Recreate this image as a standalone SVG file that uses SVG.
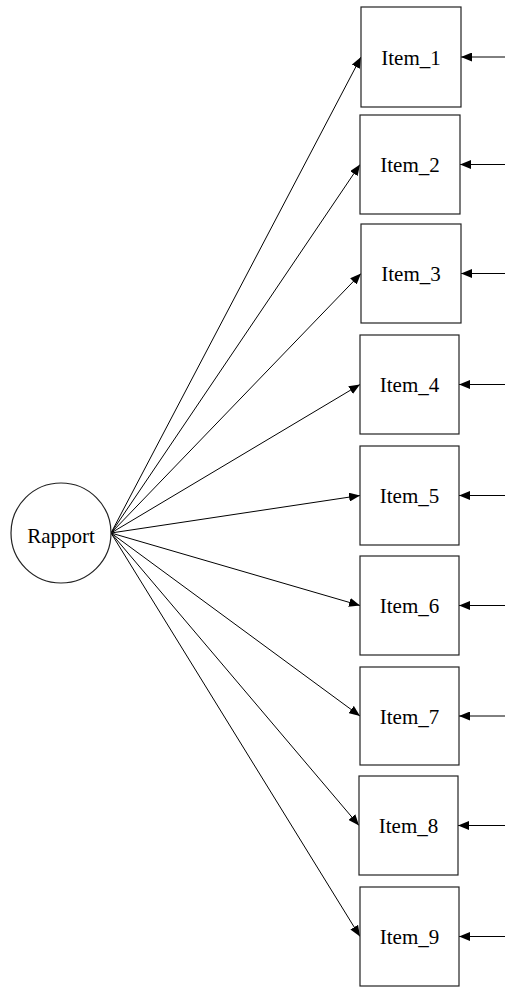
<svg xmlns="http://www.w3.org/2000/svg" width="505" height="987" viewBox="0 0 505 987">
<style>
.box{fill:#fff;stroke:#222;stroke-width:1.2}
text{font-family:'Liberation Serif','Times New Roman',serif;font-size:21px;fill:#000;text-anchor:middle}
.edge{stroke:#000;stroke-width:1;fill:none;marker-end:url(#ah)}
</style>
<defs>
<marker id="ah" viewBox="0 0 11 9" refX="11" refY="4.5" markerWidth="11" markerHeight="9" markerUnits="userSpaceOnUse" orient="auto">
<path d="M0,0 L11,4.5 L0,9 Z" fill="#000"/>
</marker>
</defs>
<rect width="505" height="987" fill="#fff"/>
<g id="connectors">
<line class="edge" x1="111" y1="533" x2="361" y2="57"/>
<line class="edge" x1="111" y1="533" x2="360" y2="164.5"/>
<line class="edge" x1="111" y1="533" x2="361" y2="273.5"/>
<line class="edge" x1="111" y1="533" x2="360" y2="384.5"/>
<line class="edge" x1="111" y1="533" x2="360" y2="495.5"/>
<line class="edge" x1="111" y1="533" x2="360" y2="605.5"/>
<line class="edge" x1="111" y1="533" x2="360" y2="716"/>
<line class="edge" x1="111" y1="533" x2="359" y2="825.5"/>
<line class="edge" x1="111" y1="533" x2="360" y2="936.5"/>
<line class="edge" x1="505" y1="57" x2="461" y2="57"/>
<line class="edge" x1="505" y1="164.5" x2="460" y2="164.5"/>
<line class="edge" x1="505" y1="273.5" x2="461" y2="273.5"/>
<line class="edge" x1="505" y1="384.5" x2="459" y2="384.5"/>
<line class="edge" x1="505" y1="495.5" x2="459" y2="495.5"/>
<line class="edge" x1="505" y1="605.5" x2="459" y2="605.5"/>
<line class="edge" x1="505" y1="716" x2="459" y2="716"/>
<line class="edge" x1="505" y1="825.5" x2="458" y2="825.5"/>
<line class="edge" x1="505" y1="936.5" x2="459" y2="936.5"/>
</g>
<g id="Rapport">
<circle cx="61" cy="533" r="50" fill="#fff" stroke="#222" stroke-width="1.2"/>
<text x="61" y="543">Rapport</text>
</g>
<g id="Item_1"><rect class="box" x="361" y="7" width="100" height="100"/><text x="411" y="64.5">Item_1</text></g>
<g id="Item_2"><rect class="box" x="360" y="115" width="100" height="99"/><text x="410" y="172">Item_2</text></g>
<g id="Item_3"><rect class="box" x="361" y="224" width="100" height="99"/><text x="411" y="281">Item_3</text></g>
<g id="Item_4"><rect class="box" x="360" y="335" width="99" height="99"/><text x="409.5" y="392">Item_4</text></g>
<g id="Item_5"><rect class="box" x="360" y="446" width="99" height="99"/><text x="409.5" y="503">Item_5</text></g>
<g id="Item_6"><rect class="box" x="360" y="556" width="99" height="99"/><text x="409.5" y="613">Item_6</text></g>
<g id="Item_7"><rect class="box" x="360" y="667" width="99" height="98"/><text x="409.5" y="723.5">Item_7</text></g>
<g id="Item_8"><rect class="box" x="359" y="776" width="99" height="99"/><text x="408.5" y="833">Item_8</text></g>
<g id="Item_9"><rect class="box" x="360" y="887" width="99" height="99"/><text x="409.5" y="944">Item_9</text></g>
</svg>
